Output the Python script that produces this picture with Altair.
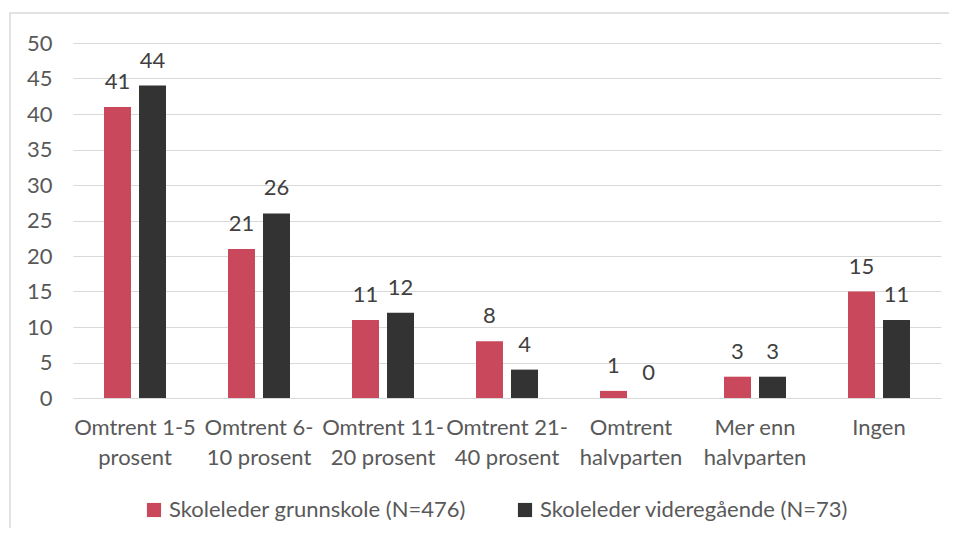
import altair as alt
import pandas as pd

categories = ["Omtrent 1-5\nprosent", "Omtrent 6-\n10 prosent", "Omtrent 11-\n20 prosent",
              "Omtrent 21-\n40 prosent", "Omtrent\nhalvparten", "Mer enn\nhalvparten", "Ingen"]
series_names = ["Skoleleder grunnskole (N=476)", "Skoleleder videregående (N=73)"]
grunnskole = [41, 21, 11, 8, 1, 3, 15]
videregaende = [44, 26, 12, 4, 0, 3, 11]
colors = ["#C9485B", "#333333"]

rows = []
for c, a, b in zip(categories, grunnskole, videregaende):
    rows.append({"kat": c, "serie": series_names[0], "verdi": a})
    rows.append({"kat": c, "serie": series_names[1], "verdi": b})
df = pd.DataFrame(rows)

FONT = "Lato"
GRAY = "#595959"
FS = 22

x = alt.X("kat:N", sort=categories, title=None,
          scale=alt.Scale(paddingInner=0.5, paddingOuter=0.25),
          axis=alt.Axis(labelAngle=0, labelExpr="split(datum.label, '\\n')",
                        labelFontSize=FS, labelFont=FONT, labelColor=GRAY,
                        labelPadding=19, labelLineHeight=30, ticks=False,
                        domainColor="#d9d9d9", labelLimit=200))
xoff = alt.XOffset("serie:N", sort=series_names,
                   scale=alt.Scale(paddingInner=0.229, paddingOuter=0))
y = alt.Y("verdi:Q", title=None,
          scale=alt.Scale(domain=[0, 50]),
          axis=alt.Axis(values=list(range(0, 51, 5)), labelFontSize=FS, labelFont=FONT,
                        labelColor=GRAY, labelPadding=21, ticks=False, domain=False,
                        gridColor="#d9d9d9"))
color = alt.Color("serie:N", sort=series_names, title=None,
                  scale=alt.Scale(domain=series_names, range=colors),
                  legend=alt.Legend(orient="none", legendX=70, legendY=456,
                                    direction="horizontal",
                                    symbolType="square", symbolSize=200,
                                    symbolStrokeWidth=0, labelFontSize=FS,
                                    labelFont=FONT, labelColor=GRAY,
                                    columnPadding=48, labelLimit=400))

frame = alt.Chart(pd.DataFrame({"a": [0]})).mark_rect(
    fill=None, stroke="#d9d9d9", strokeWidth=1.5
).encode(x=alt.value(-63), x2=alt.value(882), y=alt.value(-30), y2=alt.value(502))

bars = alt.Chart(df).mark_bar().encode(x=x, xOffset=xoff, y=y, color=color)
labels = alt.Chart(df).mark_text(baseline="bottom", dy=-13, fontSize=FS,
                                 font=FONT, color="#404040").encode(
    x=x, xOffset=xoff, y=y, text="verdi:Q")

chart = alt.layer(frame, bars, labels).properties(
    width=868, height=355,
    autosize=alt.AutoSizeParams(type="none"),
    padding={"left": 65, "top": 35, "right": 8, "bottom": 130}
).configure_view(stroke=None)

chart.save("out.html", embed_options={"renderer": "svg", "actions": False})
